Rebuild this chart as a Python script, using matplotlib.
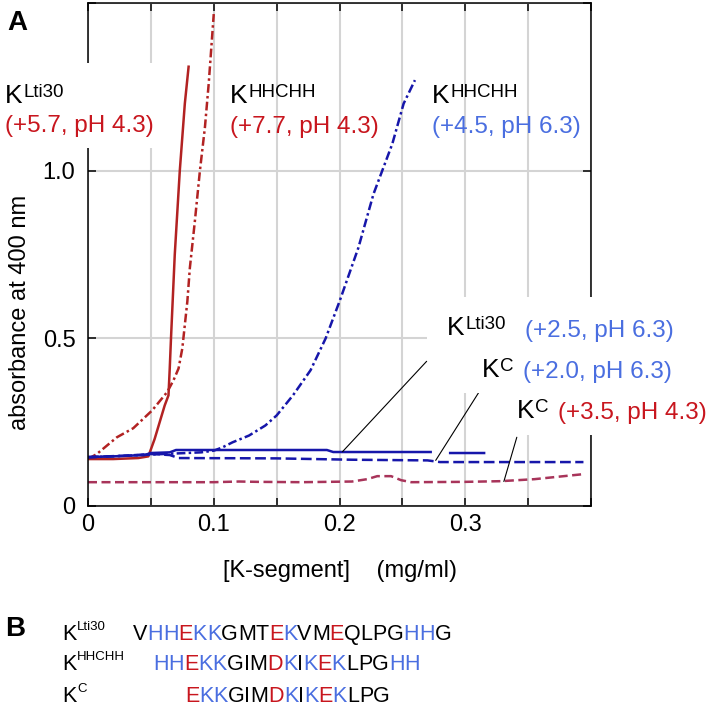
import numpy as np
import matplotlib
matplotlib.use('Agg')
import matplotlib.pyplot as plt
from matplotlib.patches import Rectangle
from matplotlib.text import Annotation

plt.rcParams['font.family'] = ['Liberation Sans', 'DejaVu Sans']

# ---- data ----
# K^Lti30, pH 4.3 (solid red)
lti30_ph43_x = [0, 0.02, 0.04, 0.048, 0.053, 0.057, 0.061, 0.064, 0.065, 0.066, 0.069, 0.073, 0.077, 0.080]
lti30_ph43_y = [0.14, 0.14, 0.143, 0.148, 0.20, 0.25, 0.30, 0.33, 0.41, 0.50, 0.75, 1.00, 1.20, 1.31]
# K^HHCHH, pH 4.3 (dash-dot red)
hhchh_ph43_x = [0, 0.007, 0.023, 0.036, 0.051, 0.063, 0.068, 0.072, 0.075, 0.079, 0.081, 0.085, 0.089, 0.093, 0.096, 0.100]
hhchh_ph43_y = [0.14, 0.155, 0.205, 0.232, 0.285, 0.34, 0.375, 0.41, 0.47, 0.61, 0.71, 0.85, 1.00, 1.13, 1.26, 1.467]
# K^HHCHH, pH 6.3 (dash-dot blue)
hhchh_ph63_x = [0, 0.03, 0.06, 0.09, 0.10, 0.107, 0.115, 0.128, 0.141, 0.150, 0.163, 0.177, 0.189, 0.200,
                0.215, 0.227, 0.234, 0.242, 0.251, 0.260]
hhchh_ph63_y = [0.145, 0.15, 0.155, 0.16, 0.165, 0.175, 0.19, 0.21, 0.24, 0.27, 0.33, 0.405, 0.50, 0.61,
                0.77, 0.93, 1.00, 1.08, 1.20, 1.27]
# K^Lti30, pH 6.3 (solid blue, gap in the record)
lti30_ph63_x = [0, 0.02, 0.045, 0.05, 0.065, 0.07, 0.19, 0.195, 0.2725, np.nan, 0.288, 0.315]
lti30_ph63_y = [0.146, 0.148, 0.152, 0.158, 0.16, 0.167, 0.167, 0.161, 0.161, np.nan, 0.158, 0.158]
# K^C, pH 6.3 (dashed blue)
kc_ph63_x = [0, 0.03, 0.05, 0.065, 0.072, 0.15, 0.21, 0.27, 0.28, 0.394]
kc_ph63_y = [0.146, 0.15, 0.155, 0.152, 0.143, 0.142, 0.138, 0.136, 0.131, 0.131]
# K^C, pH 4.3 (dashed purple)
kc_ph43_x = [0, 0.10, 0.12, 0.135, 0.17, 0.21, 0.222, 0.23, 0.241, 0.249, 0.257, 0.30, 0.328, 0.355, 0.394]
kc_ph43_y = [0.071, 0.071, 0.073, 0.072, 0.071, 0.073, 0.08, 0.089, 0.089, 0.077, 0.071, 0.072, 0.074, 0.08, 0.095]

xticks = [0, 0.05, 0.1, 0.15, 0.2, 0.25, 0.3, 0.35, 0.4]
xticklabels = ['0', '', '0.1', '', '0.2', '', '0.3', '', '']
yticks = [0, 0.5, 1.0, 1.5]
yticklabels = ['0', '0.5', '1.0', '']

sequences = ['VHHEKKGMTEKVMEQLPGHHG', 'HHEKKGIMDKIKEKLPGHH', 'EKKGIMDKIKEKLPG']
seq_names = ['Lti30', 'HHCHH', 'C']

RED_TXT = '#c8161e'
BLUE_TXT = '#4a6ee0'
residue_color = {'H': BLUE_TXT, 'K': BLUE_TXT, 'E': RED_TXT, 'D': RED_TXT}

W, H = 710, 716
fig = plt.figure(figsize=(W / 100, H / 100), dpi=100)


def fx(px):
    return px / W


def fy(py):
    return 1 - py / H


ax = fig.add_axes([fx(88), fy(506), (591 - 88) / W, (506 - 3) / H])

red = '#b22222'
blue = '#1616aa'
purple = '#a8345a'
dd = (0, (3.5, 1.3, 1.0, 1.3))
ax.plot(lti30_ph43_x, lti30_ph43_y, color=red, lw=1.8)
ax.plot(hhchh_ph43_x, hhchh_ph43_y, color=red, lw=1.8, linestyle=dd)
ax.plot(hhchh_ph63_x, hhchh_ph63_y, color=blue, lw=1.8, linestyle=dd)
ax.plot(lti30_ph63_x, lti30_ph63_y, color=blue, lw=1.8)
ax.plot(kc_ph63_x, kc_ph63_y, color=blue, lw=1.8, linestyle=(0, (4.3, 1.8)))
ax.plot(kc_ph43_x, kc_ph43_y, color=purple, lw=1.8, linestyle=(0, (3.6, 1.8)))

ax.set_xlim(0, 0.4)
ax.set_ylim(0, 1.5)
ax.set_xticks(xticks)
ax.set_xticklabels(xticklabels)
ax.set_yticks(yticks)
ax.set_yticklabels(yticklabels)
ax.grid(True, color='#d4d4d4', lw=1.5)
ax.set_axisbelow(True)
ax.tick_params(direction='in', top=True, right=True, length=6, width=1.1, labelsize=17)
ax.tick_params(axis='x', pad=6)
ax.tick_params(axis='y', pad=9)
for sp in ax.spines.values():
    sp.set_linewidth(1.1)

# leader lines from labels to curves
for (x0, y0), (x1, y1) in [((0.2693, 0.4315), (0.2024, 0.162)),
                           ((0.3108, 0.339), (0.2765, 0.136)),
                           ((0.341, 0.205), (0.3307, 0.073))]:
    ax.annotate('', xy=(x1, y1), xytext=(x0, y0),
                arrowprops=dict(arrowstyle='-', color='black', lw=0.8, shrinkA=0, shrinkB=0))

# white boxes behind the labels (cover grid and spines)
for x0, y0, x1, y1 in [(0, 63, 176, 148), (427, 297, 710, 342), (462, 340, 710, 393), (497, 385, 710, 435)]:
    fig.add_artist(Rectangle((fx(x0), fy(y1)), (x1 - x0) / W, (y1 - y0) / H,
                             transform=fig.transFigure, facecolor='white', edgecolor='none', zorder=2))


def klabel(px, py, sup, size=19, supsize=13.5, rise=0):
    k = fig.text(fx(px), fy(py), 'K', fontsize=size, va='baseline', ha='left', zorder=3)
    s = Annotation(sup, xy=(1, 1), xycoords=k, xytext=(0.6, rise), textcoords='offset points',
                   ha='left', va='top', fontsize=supsize, zorder=3)
    fig.add_artist(s)
    return k


def note(px, py, txt, color, size=17.5):
    fig.text(fx(px), fy(py), txt, fontsize=size, color=color, va='baseline', ha='left', zorder=3)


klabel(5, 103, 'Lti30')
note(5, 132, '(+5.7, pH 4.3)', RED_TXT)
klabel(230, 103, 'HHCHH')
note(230, 133, '(+7.7, pH 4.3)', RED_TXT)
klabel(432, 103, 'HHCHH')
note(432, 133, '(+4.5, pH 6.3)', BLUE_TXT)
klabel(447, 335, 'Lti30')
note(525, 337, '(+2.5, pH 6.3)', BLUE_TXT)
klabel(482, 377, 'C')
note(523, 378, '(+2.0, pH 6.3)', BLUE_TXT)
klabel(517, 418, 'C')
note(558, 419, '(+3.5, pH 4.3)', RED_TXT)

fig.text(fx(20), fy(312), 'absorbance at 400 nm', rotation=90, fontsize=17, ha='center', va='center')
fig.text(fx(340), fy(577), '[K-segment]    (mg/ml)', fontsize=17, ha='center', va='baseline')
fig.text(fx(7), fy(30), 'A', fontsize=20, fontweight='bold', va='baseline')
fig.text(fx(5), fy(636), 'B', fontsize=20, fontweight='bold', va='baseline')

# panel B: sequences
row_y = [640, 670, 702]
row_x = [133, 153, 185]
for name, seq, y, x in zip(seq_names, sequences, row_y, row_x):
    klabel(62, y, name, size=15.5, supsize=9.5, rise=2)
    prev = fig.text(fx(x), fy(y), seq[0], fontsize=15.5, va='baseline', ha='left',
                    color=residue_color.get(seq[0], 'black'))
    for ch in seq[1:]:
        a = Annotation(ch, xy=(1, 0), xycoords=prev, ha='left', va='bottom', fontsize=15.5,
                       color=residue_color.get(ch, 'black'))
        fig.add_artist(a)
        prev = a

fig.savefig('out.png', dpi=100)
